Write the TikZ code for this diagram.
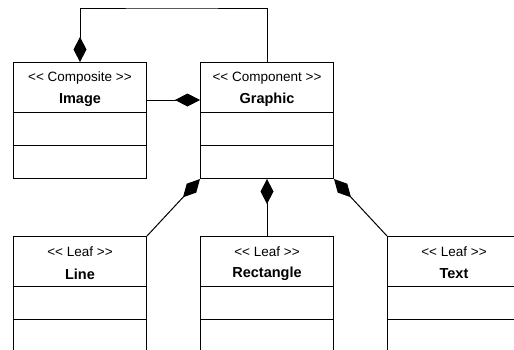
\documentclass[tikz,border=0pt]{standalone}
\usepackage{fontspec}
\setmainfont{Liberation Sans}
\usetikzlibrary{arrows.meta,calc}

\tikzset{
  classbox/.style={draw, line width=1pt, anchor=north west, inner sep=0pt,
    minimum width=133pt, minimum height=116pt},
  stereo/.style={font=\fontsize{13.5}{15}\selectfont, inner sep=0pt},
  classname/.style={font=\fontsize{14.5}{16}\selectfont\bfseries, inner sep=0pt},
  compos/.style={line width=1pt, {Diamond[length=25pt,width=13pt]}-},
}

% class box: header (stereotype + name) and two empty compartments
\def\umlclass(#1)(#2,#3)#4#5{
  \node[classbox] (#1) at (#2,#3) {};
  \draw[line width=1pt] ($(#1.north west)+(0,50)$) -- ($(#1.north east)+(0,50)$);
  \draw[line width=1pt] ($(#1.north west)+(0,83)$) -- ($(#1.north east)+(0,83)$);
  \node[stereo] (#1-st) at ($(#1.north)+(0,16)$) {{<}{<} #4 {>}{>}};
  \node[classname] (#1-nm) at ($(#1.north)+(0,38)$) {#5};
}

\begin{document}
\begin{tikzpicture}[x=1pt,y=-1pt]
		%%%%% START %%%%%
		\clip (0,0) rectangle (514,349);
		
		\umlclass(image)(13,62){Composite}{Image}
		\umlclass(graphic)(200,62){Component}{Graphic}
		
		\umlclass(line)(13,236){Leaf}{Line}
		\umlclass(rect)(200,236){Leaf}{Rectangle}
		\umlclass(text)(387,236){Leaf}{Text}
		
		% composite holds components
		\coordinate (loop) at (170,8);
		\draw[compos] (image.north) |- (loop) -| (graphic.north);
		\draw[compos] (graphic.west |- image-nm) -- (image.east |- image-nm);
		
		% leaves
		\draw[compos] (graphic.south west) -- (line.north east);
		\draw[compos] (graphic.south) -- (rect.north);
		\draw[compos] (graphic.south east) -- (text.north west);
		
		%%%%% END %%%%%
\end{tikzpicture}
\end{document}
